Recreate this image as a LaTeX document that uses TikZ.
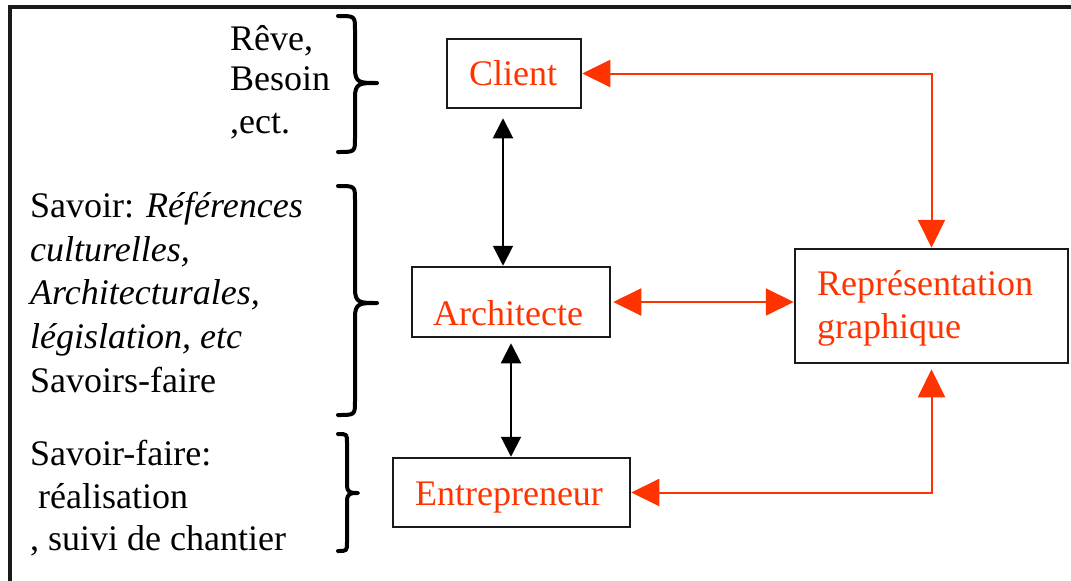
\documentclass[tikz,border=0pt]{standalone}
\usepackage{fontspec}
\setmainfont{Liberation Serif}
\usetikzlibrary{arrows.meta,calc}
\definecolor{accent}{RGB}{255,51,0}
\definecolor{ink}{RGB}{26,26,26}

\begin{document}
\begin{tikzpicture}[x=1pt,y=-1pt,
  box/.style={draw=ink, line width=2.5pt, inner sep=0pt},
  lbl/.style={inner sep=0pt, anchor=base, text=accent, font=\fontsize{36}{42}\selectfont},
  lblw/.style={inner sep=0pt, anchor=base west, text=accent, font=\fontsize{36}{42}\selectfont},
  note/.style={inner sep=0pt, anchor=base west, font=\fontsize{36}{42}\selectfont},
  link/.style={draw=accent, line width=2pt, {Triangle[length=28pt,width=27pt]}-{Triangle[length=28pt,width=27pt]}},
  tie/.style={draw=black, line width=2pt, {Triangle[length=20pt,width=20pt]}-{Triangle[length=20pt,width=20pt]}},
  brace/.style={draw=black, line width=4pt, line cap=round, line join=round},
  frameline/.style={draw=ink, line width=4pt},
]
\useasboundingbox (0,0) rectangle (1071,581);

% partial frame: top and left edges
\draw[frameline] (1071,7) -- (10,7) -- (10,581);

% boxes
\node[box, minimum width=134pt, minimum height=69pt] (client) at (514,73.5) {};
\node[box, minimum width=198pt, minimum height=70pt] (arch) at (511,302) {};
\node[box, minimum width=237pt, minimum height=69pt] (entr) at (511.5,492.5) {};
\node[box, minimum width=273pt, minimum height=114pt] (repr) at (931.5,306) {};

% box labels
\node[lbl] (clientT) at (513,85) {Client};
\node[lbl] (archT) at (508,325) {Architecte};
\node[lbl] (entrT) at (509,505) {Entrepreneur};
\node[lblw] (reprT1) at (817,295) {Représentation};
\node[lblw] (reprT2) at (817,338) {graphique};

% red links
\draw[link] (repr.north) |- (client.east);
\draw[link, shorten <=2pt] (arch.east) -- (arch.east -| repr.west);
\draw[link, shorten >=5pt] (entr.east) -| (repr.south);

% black links
\draw[tie, shorten <=9pt] ([xshift=-11pt]client.south) -- ([xshift=-11pt]client.south |- arch.north);
\draw[tie, shorten <=5pt] (arch.south) -- (arch.south |- entr.north);

% side notes
\node[note] (n11) at (230,50) {Rêve,};
\node[note] (n12) at (230,90) {Besoin};
\node[note] (n13) at (230,133) {,ect.};

\node[note] (n21) at (30,217) {Savoir: \textit{Références}};
\node[note] (n22) at (30,261) {\textit{culturelles,}};
\node[note] (n23) at (30,304) {\textit{Architecturales,}};
\node[note] (n24) at (30,348) {\textit{législation, etc}};
\node[note] (n25) at (30,392) {Savoirs-faire};

\node[note] (n31) at (30,465) {Savoir-faire:};
\node[note] (n32) at (38,508) {réalisation};
\node[note] (n33) at (30,550) {, suivi de chantier};

% braces
\draw[brace] (338,16) .. controls (355,16) .. (355,30) -- (355,69)
  .. controls (355,83) and (360,83) .. (377,83)
  .. controls (360,83) and (355,83) .. (355,97) -- (355,138)
  .. controls (355,152) .. (338,152);
\draw[brace] (338,186) .. controls (355,186) .. (355,200) -- (355,289)
  .. controls (355,303) and (360,303) .. (377,303)
  .. controls (360,303) and (355,303) .. (355,317) -- (355,401)
  .. controls (355,415) .. (338,415);
\draw[brace] (338,434) .. controls (347,434) .. (347,443) -- (347,484)
  .. controls (347,493) and (350,493) .. (358,493)
  .. controls (350,493) and (347,493) .. (347,502) -- (347,542)
  .. controls (347,551) .. (338,551);
\end{tikzpicture}
\end{document}
